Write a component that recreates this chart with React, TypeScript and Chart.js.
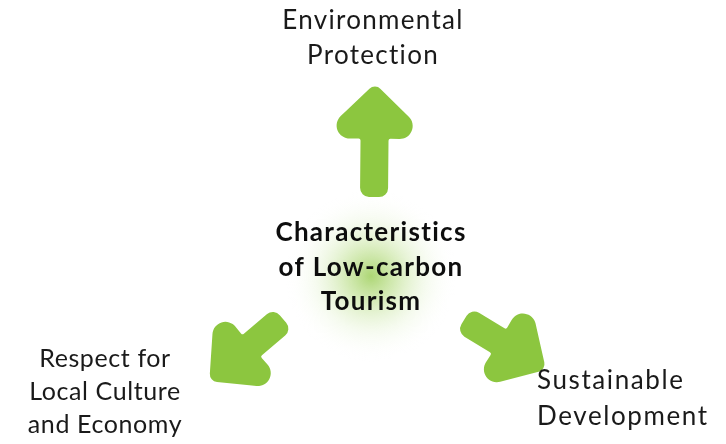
import React, { useEffect, useRef } from 'react';
import { Chart, registerables } from 'chart.js';

Chart.register(...registerables);

// ---- Data (diagram units, 0..726 x 0..444) ----
const arrowNames = ['Environmental Protection', 'Sustainable Development', 'Respect for Local Culture and Economy'];
const arrowTailX = [374, 464, 283];
const arrowTailY = [197, 320, 319];
const arrowTipX = [375, 543, 212];
const arrowTipY = [87, 368, 379];

const labelLines = [
  ['Environmental', 'Protection'],
  ['Sustainable', 'Development'],
  ['Respect for', 'Local Culture', 'and Economy'],
];
const labelX = [373, 537, 105];
const labelY = [29, 389, 366.5];

const titleLines = ['Characteristics', 'of Low-carbon', 'Tourism'];
const titleX = [371];
const titleY = [241];

const glowX = [371];
const glowY = [276];

// ---- Styles ----
const ARROW_COLOR = '#8cc63f';
const labelAlign: CanvasTextAlign[] = ['center', 'left', 'center'];
const labelGap = [35, 35.5, 33.3];
const labelFontSize = [26, 26, 25];
const labelSpacing = [1.3, 1.6, 0.6];
const TITLE_GAP = 34.5;

function drawArrow(ctx: CanvasRenderingContext2D, tx: number, ty: number, hx: number, hy: number) {
  const dx = hx - tx;
  const dy = hy - ty;
  const L = Math.hypot(dx, dy);
  const ang = Math.atan2(dy, dx);
  const H = 56, W = 116, S = 28;
  const tipR = 8;
  const tipAdv = 3.5;
  const pts = [
    [tipAdv, 0],
    [-H + tipAdv, W / 2],
    [-H + tipAdv + 1, S / 2],
    [-L, S / 2],
    [-L, -S / 2],
    [-H + tipAdv + 1, -S / 2],
    [-H + tipAdv, -W / 2],
  ];
  const radii = [tipR, 13, 2, 9, 9, 2, 13];
  ctx.save();
  ctx.translate(hx, hy);
  ctx.rotate(ang);
  ctx.beginPath();
  const n = pts.length;
  const last = pts[n - 1];
  const first = pts[0];
  ctx.moveTo((last[0] + first[0]) / 2, (last[1] + first[1]) / 2);
  for (let i = 0; i < n; i++) {
    const p = pts[i];
    const q = pts[(i + 1) % n];
    ctx.arcTo(p[0], p[1], q[0], q[1], radii[i]);
  }
  ctx.closePath();
  ctx.fillStyle = ARROW_COLOR;
  ctx.fill();
  ctx.restore();
}

const diagramPlugin = {
  id: 'diagram',
  beforeDatasetsDraw(chart: any) {
    const { ctx, scales } = chart;
    const x = scales.x;
    const y = scales.y;
    const gx = x.getPixelForValue(glowX[0]);
    const gy = y.getPixelForValue(glowY[0]);
    const r = x.getPixelForValue(glowX[0] + 86) - gx;
    const g = ctx.createRadialGradient(gx, gy, 0, gx, gy, r);
    g.addColorStop(0, 'rgba(145,200,70,0.75)');
    g.addColorStop(0.3, 'rgba(165,212,100,0.45)');
    g.addColorStop(0.65, 'rgba(205,232,170,0.18)');
    g.addColorStop(1, 'rgba(255,255,255,0)');
    ctx.save();
    ctx.fillStyle = g;
    ctx.beginPath();
    ctx.arc(gx, gy, r, 0, Math.PI * 2);
    ctx.fill();
    ctx.restore();
  },
  afterDatasetsDraw(chart: any) {
    const { ctx, scales } = chart;
    const x = scales.x;
    const y = scales.y;
    chart.data.datasets.forEach((ds: any, i: number) => {
      const meta = chart.getDatasetMeta(i);
      const [tail, tip] = meta.data;
      drawArrow(ctx, tail.x, tail.y, tip.x, tip.y);
    });
    ctx.save();
    ctx.fillStyle = '#1a1a1a';
    ctx.textBaseline = 'alphabetic';
    labelLines.forEach((lines, i) => {
      ctx.font = `${labelFontSize[i]}px Lato`;
      (ctx as any).letterSpacing = `${labelSpacing[i]}px`;
      ctx.textAlign = labelAlign[i];
      const px = x.getPixelForValue(labelX[i]);
      lines.forEach((t, j) => {
        const py = y.getPixelForValue(labelY[i] + j * labelGap[i]);
        ctx.fillText(t, px, py);
      });
    });
    ctx.fillStyle = '#0d0d0d';
    ctx.font = 'bold 26px Lato';
    (ctx as any).letterSpacing = '1.3px';
    ctx.textAlign = 'center';
    titleLines.forEach((t, j) => {
      ctx.fillText(t, x.getPixelForValue(titleX[0]), y.getPixelForValue(titleY[0] + j * TITLE_GAP));
    });
    ctx.restore();
  },
};

export default function App() {
  const ref = useRef<HTMLCanvasElement | null>(null);
  useEffect(() => {
    if (!ref.current) return;
    const chart = new Chart(ref.current, {
      type: 'scatter',
      data: {
        datasets: arrowNames.map((name, i) => ({
          label: name,
          data: [
            { x: arrowTailX[i], y: arrowTailY[i] },
            { x: arrowTipX[i], y: arrowTipY[i] },
          ],
          pointRadius: 0,
          showLine: false,
        })),
      },
      options: {
        animation: false,
        responsive: false,
        layout: { padding: 0 },
        scales: {
          x: { type: 'linear', min: 0, max: 726, display: false },
          y: { type: 'linear', min: 0, max: 444, reverse: true, display: false },
        },
        plugins: { legend: { display: false }, tooltip: { enabled: false } },
        events: [],
      },
      plugins: [diagramPlugin],
    });
    return () => chart.destroy();
  }, []);
  return (
    <div style={{ position: 'fixed', left: 0, top: 0, width: 726, height: 444, background: '#ffffff' }}>
      <canvas ref={ref} width={726} height={444} style={{ display: 'block' }} />
    </div>
  );
}
